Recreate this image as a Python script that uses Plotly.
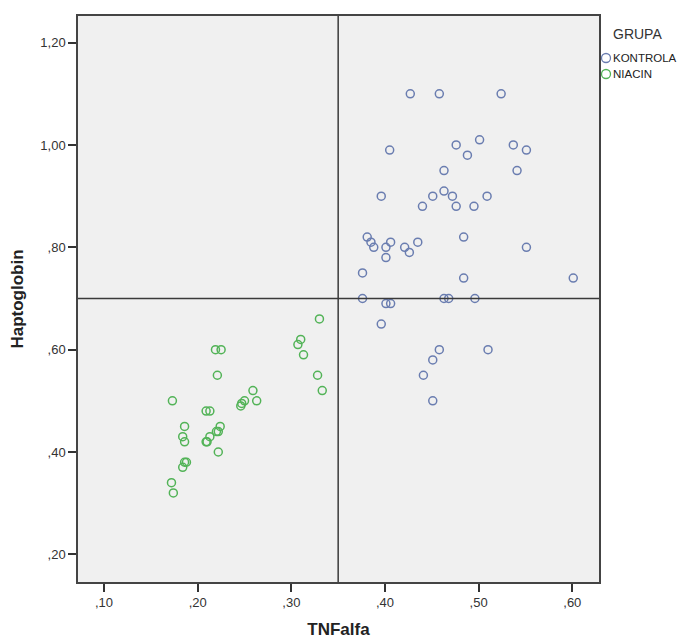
import plotly.graph_objects as go

# ---- data ----
kontrola_x = [0.427, 0.458, 0.524, 0.405, 0.476, 0.501, 0.488, 0.537, 0.551, 0.463, 0.541,
              0.396, 0.451, 0.463, 0.472, 0.509, 0.440, 0.476, 0.495,
              0.381, 0.385, 0.388, 0.401, 0.406, 0.401, 0.421, 0.426, 0.435, 0.484, 0.551,
              0.376, 0.484, 0.601, 0.376, 0.401, 0.406, 0.463, 0.468, 0.496,
              0.396, 0.458, 0.510, 0.451, 0.441, 0.451]
kontrola_y = [1.10, 1.10, 1.10, 0.99, 1.00, 1.01, 0.98, 1.00, 0.99, 0.95, 0.95,
              0.90, 0.90, 0.91, 0.90, 0.90, 0.88, 0.88, 0.88,
              0.82, 0.81, 0.80, 0.80, 0.81, 0.78, 0.80, 0.79, 0.81, 0.82, 0.80,
              0.75, 0.74, 0.74, 0.70, 0.69, 0.69, 0.70, 0.70, 0.70,
              0.65, 0.60, 0.60, 0.58, 0.55, 0.50]

niacin_x = [0.330, 0.310, 0.307, 0.313, 0.219, 0.225, 0.221, 0.328, 0.333, 0.173,
            0.259, 0.250, 0.247, 0.246, 0.263, 0.209, 0.213, 0.186, 0.184, 0.186,
            0.224, 0.222, 0.220, 0.213, 0.210, 0.209, 0.222, 0.188, 0.186, 0.184,
            0.172, 0.174]
niacin_y = [0.66, 0.62, 0.61, 0.59, 0.60, 0.60, 0.55, 0.55, 0.52, 0.50,
            0.52, 0.50, 0.495, 0.49, 0.50, 0.48, 0.48, 0.45, 0.43, 0.42,
            0.45, 0.44, 0.44, 0.43, 0.42, 0.42, 0.40, 0.38, 0.38, 0.37,
            0.34, 0.32]

x_tickvals = [0.10, 0.20, 0.30, 0.40, 0.50, 0.60]
x_ticktext = [",10", ",20", ",30", ",40", ",50", ",60"]
y_tickvals = [0.20, 0.40, 0.60, 0.80, 1.00, 1.20]
y_ticktext = [",20", ",40", ",60", ",80", "1,00", "1,20"]

ref_x = 0.35
ref_y = 0.70

groups = ["KONTROLA", "NIACIN"]
colors = ["#6a7db0", "#52b357"]

FONT = "Arial, Liberation Sans, sans-serif"

fig = go.Figure()
fig.add_trace(go.Scatter(x=kontrola_x, y=kontrola_y, mode="markers", name=groups[0],
                         showlegend=False,
                         marker=dict(symbol="circle-open", size=8, color=colors[0],
                                     line=dict(width=1.5, color=colors[0]))))
fig.add_trace(go.Scatter(x=niacin_x, y=niacin_y, mode="markers", name=groups[1],
                         showlegend=False,
                         marker=dict(symbol="circle-open", size=8, color=colors[1],
                                     line=dict(width=1.5, color=colors[1]))))

# reference lines
fig.add_shape(type="line", xref="x", yref="paper", x0=ref_x, x1=ref_x, y0=0, y1=1,
              line=dict(color="#3a3a3a", width=1.5))
fig.add_shape(type="line", xref="paper", yref="y", x0=0, x1=1, y0=ref_y, y1=ref_y,
              line=dict(color="#3a3a3a", width=1.5))

# page has an 8px body margin
OFF = 8
W, H = 692 - OFF, 639 - OFF
L, R, T, B = 70, 93, 8, 57
pw, ph = W - L - R, H - T - B


def px(xp):
    return (xp - OFF - L) / pw


def py(yp):
    return 1 - (yp - OFF - T) / ph


fig.add_annotation(x=px(611), y=py(34), xref="paper", yref="paper", text="GRUPA",
                   showarrow=False, xanchor="left", yanchor="middle",
                   font=dict(family=FONT, size=14, color="#333333"))
for i, (g, c) in enumerate(zip(groups, colors)):
    yy = 58 + i * 16
    fig.add_shape(type="circle", xref="paper", yref="paper", xsizemode="pixel",
                  ysizemode="pixel", xanchor=px(606), yanchor=py(yy),
                  x0=-4.5, x1=4.5, y0=-4.5, y1=4.5, line=dict(color=c, width=1.3))
    fig.add_annotation(x=px(611), y=py(yy), xref="paper", yref="paper", text=g,
                       showarrow=False, xanchor="left", yanchor="middle",
                       font=dict(family=FONT, size=11.5, color="#222222"))

axis_common = dict(showgrid=False, zeroline=False, showline=True, mirror=True,
                   linecolor="#444444", linewidth=1.5, ticks="outside", ticklen=8,
                   tickwidth=1.5, tickcolor="#333333", automargin=False,
                   tickfont=dict(family=FONT, size=13, color="#333333"))

fig.update_layout(
    width=W, height=H,
    margin=dict(l=L, r=R, t=T, b=B),
    paper_bgcolor="white", plot_bgcolor="#f0f0f0",
    xaxis=dict(range=[0.0722, 0.6285], tickvals=x_tickvals, ticktext=x_ticktext,
               ticklabelstandoff=0,
               title=dict(text="<b>TNFalfa</b>", standoff=14,
                          font=dict(family=FONT, size=17, color="#222222")),
               **axis_common),
    yaxis=dict(range=[0.146, 1.252], tickvals=y_tickvals, ticktext=y_ticktext,
               title=dict(text="<b>Haptoglobin</b>", standoff=12,
                          font=dict(family=FONT, size=17, color="#222222")),
               **axis_common),
)

fig.write_html("out.html")
